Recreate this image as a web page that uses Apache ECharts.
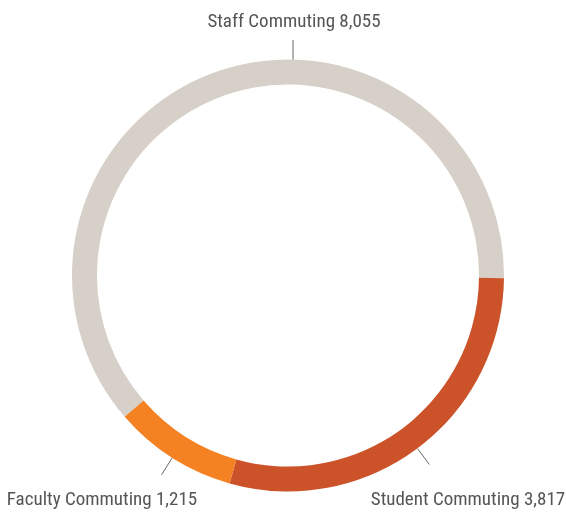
<!DOCTYPE html>
<html><head><meta charset="utf-8">
<script src="https://cdn.jsdelivr.net/npm/echarts@6/dist/echarts.min.js"></script>
<style>html,body{margin:0;padding:0;background:#fff}#c{width:566px;height:512px}</style>
</head><body><div id="c"></div>
<script>
const categories = ['Staff Commuting', 'Student Commuting', 'Faculty Commuting'];
const values = [8055, 3817, 1215];
const colors = ['#d7d0c9', '#cc5229', '#f58222'];

const chart = echarts.init(document.getElementById('c'), null, {renderer: 'canvas'});
const total = values.reduce((a, b) => a + b, 0);
const startAngle = -0.7 + values[0] / total * 360;

const labelPos = [
  {x: 294, y: 22, line: [[293, 60], [293, 40]]},
  {x: 468, y: 500},
  {x: 102, y: 500}
];

chart.setOption({
  animation: false,
  series: [{
    type: 'pie',
    center: [288, 275.5],
    radius: [191, 216],
    startAngle: startAngle,
    clockwise: true,
    avoidLabelOverlap: false,
    data: categories.map((n, i) => ({name: n, value: values[i], itemStyle: {color: colors[i]}})),
    label: {
      show: true,
      position: 'outside',
      fontStyle: 'condensed',
      fontFamily: 'Roboto, sans-serif',
      fontSize: 19,
      color: '#555555',
      formatter: p => p.name + ' ' + p.value.toLocaleString('en-US')
    },
    labelLine: {show: true, length: 20, length2: 0, lineStyle: {color: '#666666', width: 1}},
    emphasis: {disabled: true},
    labelLayout: function (params) {
      const lp = labelPos[params.dataIndex];
      const pts = params.labelLinePoints;
      return {
        x: lp.x, y: lp.y, align: 'center', verticalAlign: 'middle',
        labelLinePoints: lp.line ? lp.line : [pts[0], pts[1], pts[1]]
      };
    }
  }]
});
</script></body></html>
